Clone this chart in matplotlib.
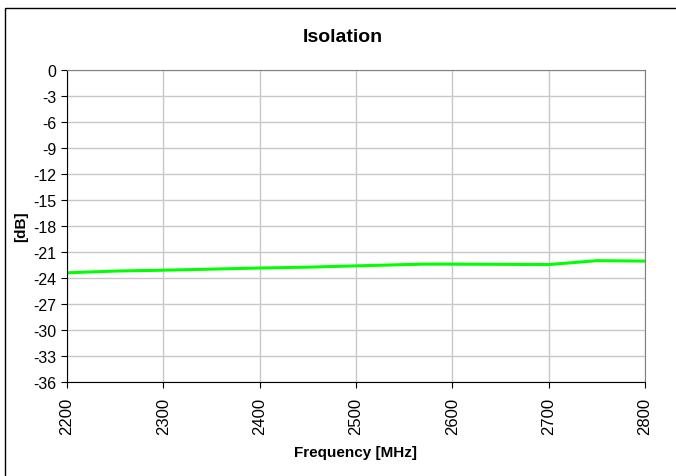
import numpy as np
import matplotlib.pyplot as plt
from matplotlib.patches import Rectangle

plt.rcParams['font.family'] = ['Liberation Sans', 'DejaVu Sans']

# data
freq = [2200, 2250, 2300, 2400, 2450, 2500, 2570, 2600, 2700, 2750, 2800]
iso = [-23.4, -23.2, -23.1, -22.85, -22.75, -22.6, -22.4, -22.4, -22.45, -22.0, -22.05]
yticks = np.arange(-36, 1, 3)
xticks = [2200, 2300, 2400, 2500, 2600, 2700, 2800]

W, H = 676, 477
fig = plt.figure(figsize=(W / 100, H / 100), dpi=100)
fig.patches.append(Rectangle((5 / W, -0.1), 1.2, 1.1 - 9 / H, transform=fig.transFigure,
                             fill=False, edgecolor='black', linewidth=1))

ax = fig.add_axes([67 / W, 1 - 383 / H, (645 - 67) / W, (383 - 71) / H])
ax.plot(freq, iso, color='#00FF00', linewidth=2.2)

ax.set_xlim(2200, 2800)
ax.set_ylim(-36, 0)
ax.set_xticks(xticks)
ax.set_yticks(yticks)
ax.set_yticklabels([str(v) for v in yticks])
ax.tick_params(axis='x', labelrotation=90, labelsize=12, direction='out', length=4,
               pad=6.5, color='black')
ax.tick_params(axis='y', labelsize=11.5, direction='out', length=4, color='black')
ax.grid(True, color='#C8C8C8', linewidth=1)
ax.set_axisbelow(True)

for s in ['top', 'right']:
    ax.spines[s].set_color('#808080')
for s in ['left', 'bottom']:
    ax.spines[s].set_color('black')

# title is centred on the whole chart box, not the plot area
fig.text(343 / W, 1 - 42 / H, 'Isolation', fontsize=14, fontweight='bold',
         ha='center', va='baseline')
ax.set_xlabel('Frequency [MHz]', fontsize=11, fontweight='bold', labelpad=8)
ax.set_ylabel('[dB]', fontsize=11, fontweight='bold', labelpad=4)

fig.savefig('out.png', dpi=100)
